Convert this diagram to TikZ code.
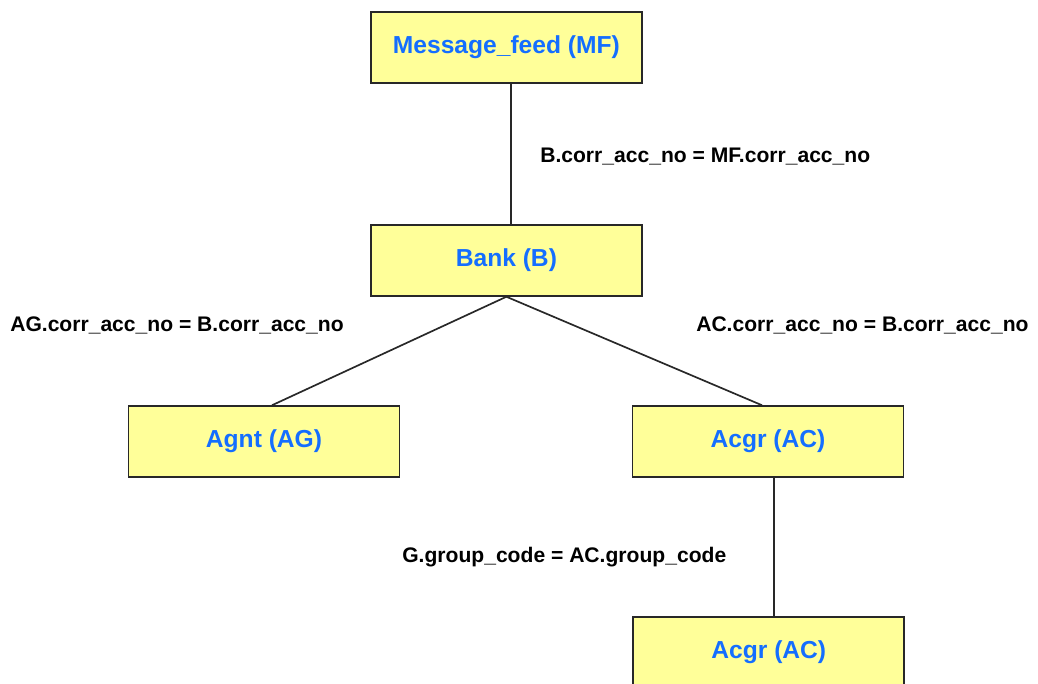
\documentclass[tikz,border=0pt]{standalone}
\usepackage{fontspec}
\setmainfont{Liberation Sans}
\usepackage{tikz}
\usetikzlibrary{positioning}
\definecolor{tblfill}{RGB}{255,255,153}
\definecolor{tblblue}{RGB}{20,110,255}
\definecolor{tbledge}{RGB}{40,40,40}

\begin{document}
\begin{tikzpicture}[
    tablebox/.style={draw=tbledge, line width=1.2pt, fill=tblfill, text=tblblue,
        minimum width=6.775cm, minimum height=1.775cm, inner sep=0pt,
        font=\fontsize{17.5}{20}\selectfont\bfseries},
    joinlabel/.style={anchor=west, inner sep=0pt, text=black,
        font=\fontsize{15}{18}\selectfont\bfseries},
    joinline/.style={draw=tbledge, line width=1.2pt}
]
    % Fixed frame (bottom table runs off the page)
    \useasboundingbox (0,0) rectangle (25.95,-17.1);
    \clip (0,0) rectangle (25.95,-17.1);

    % Tables
    \node[tablebox] (mf)   at (12.66,-1.19)  {Message\_feed (MF)};
    \node[tablebox] (bank) at (12.66,-6.51)  {Bank (B)};
    \node[tablebox] (agnt) at (6.6,-11.04)   {Agnt (AG)};
    \node[tablebox] (acgr) at (19.2,-11.04)  {Acgr (AC)};
    \node[tablebox] (grp)  at (19.22,-16.31) {Acgr (AC)};

    % Joins
    \draw[joinline] ([xshift=0.11cm]mf.south) -- ([xshift=0.11cm]mf.south |- bank.north);
    \draw[joinline] (bank.south) -- ([xshift=0.2cm]agnt.north);
    \draw[joinline] (bank.south) -- ([xshift=-0.15cm]acgr.north);
    \draw[joinline] ([xshift=0.15cm]acgr.south) -- ([xshift=0.15cm]acgr.south |- grp.north);

    % Join conditions
    \node[joinlabel] (lmf)  at (13.5,-3.925)  {B.corr\_acc\_no = MF.corr\_acc\_no};
    \node[joinlabel] (lag)  at (0.25,-8.125)  {AG.corr\_acc\_no = B.corr\_acc\_no};
    \node[joinlabel] (lac)  at (17.4,-8.125)  {AC.corr\_acc\_no = B.corr\_acc\_no};
    \node[joinlabel] (lgrp) at (10.05,-13.925) {G.group\_code = AC.group\_code};
\end{tikzpicture}
\end{document}
